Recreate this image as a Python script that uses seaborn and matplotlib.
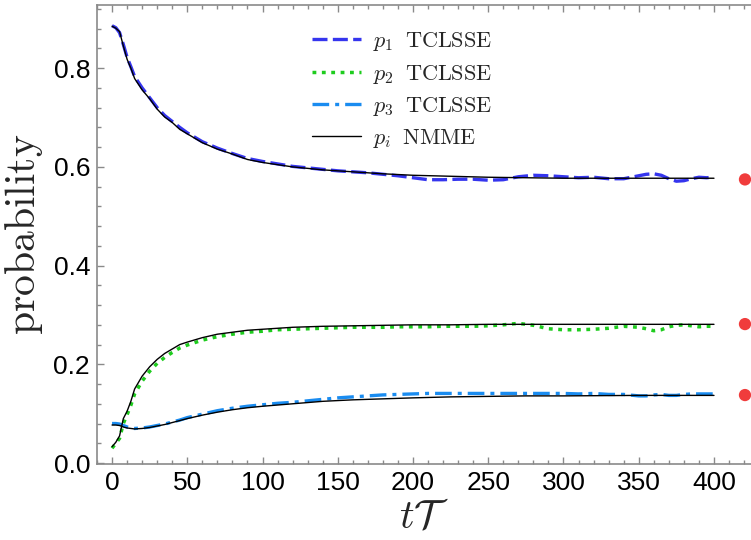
import numpy as np
import pandas as pd
import matplotlib
matplotlib.use("Agg")
import matplotlib.pyplot as plt
import seaborn as sns

# ---------------- data ----------------
t_nmme = [0, 2.5, 5, 7.5, 10, 12.5, 15, 20, 25, 30, 35, 40, 45, 50, 60, 70, 80, 90,
          100, 120, 140, 160, 180, 200, 225, 250, 275, 300, 350, 400]
p1_nmme = [.885, .881, .874, .845, .818, .800, .779, .756, .738, .717, .701, .690, .676, .667,
           .649, .636, .626, .615, .609, .600, .594, .590, .586, .583, .581, .579, .578, .577,
           .577, .577]
p2_nmme = [.033, .042, .055, .090, .105, .125, .150, .176, .195, .210, .222, .231, .240, .245,
           .254, .261, .265, .269, .271, .275, .277, .278, .279, .280, .280, .281, .281, .281,
           .281, .281]
p3_nmme = [.077, .077, .076, .073, .071, .070, .069, .070, .072, .075, .078, .082, .086, .090,
           .097, .103, .108, .112, .115, .120, .125, .128, .130, .132, .134, .135, .136, .136,
           .137, .137]

t_tcl = [0, 2.5, 5, 7.5, 10, 12.5, 15, 20, 25, 30, 35, 40, 45, 50, 60, 70, 80, 90, 100, 110,
         120, 130, 140, 150, 160, 170, 180, 190, 200, 210, 220, 230, 240, 250, 260, 270, 280,
         290, 300, 310, 320, 330, 340, 350, 355, 360, 365, 370, 375, 380, 385, 390, 395, 400]
p1_tcl = [.886, .882, .872, .848, .822, .803, .783, .760, .740, .720, .704, .692, .680, .669,
          .651, .638, .627, .617, .611, .606, .601, .598, .595, .592, .590, .588, .585, .582,
          .578, .574, .574, .575, .575, .573, .574, .580, .583, .582, .580, .578, .579, .576,
          .576, .582, .585, .586, .583, .576, .571, .572, .576, .579, .578, .579]
p2_tcl = [.030, .040, .050, .080, .098, .117, .140, .166, .186, .202, .214, .224, .233, .239,
          .249, .256, .261, .265, .267, .270, .271, .272, .273, .274, .275, .275, .275, .276,
          .276, .276, .277, .277, .277, .278, .280, .283, .279, .272, .270, .270, .271, .273,
          .277, .275, .272, .268, .270, .276, .279, .280, .278, .276, .277, .277]
p3_tcl = [.080, .080, .079, .076, .073, .071, .070, .071, .073, .076, .079, .083, .087, .092,
          .099, .106, .111, .115, .118, .121, .123, .126, .129, .132, .134, .136, .138, .139,
          .140, .141, .141, .141, .141, .141, .141, .141, .141, .141, .141, .140, .141, .139,
          .139, .136, .136, .138, .139, .137, .137, .139, .140, .140, .140, .140]

t_steady = [420.6, 420.6, 420.6]
p_steady = [0.5746, 0.2815, 0.1377]

legend_labels = [r"$p_1\;\;\mathrm{TCLSSE}$", r"$p_2\;\;\mathrm{TCLSSE}$",
                 r"$p_3\;\;\mathrm{TCLSSE}$", r"$p_i\;\;\mathrm{NMME}$"]

# ---------------- style ----------------
sns.set_style("ticks")
plt.rcParams["font.family"] = ["Liberation Sans", "DejaVu Sans"]
plt.rcParams["mathtext.fontset"] = "cm"

fig = plt.figure(figsize=(7.51, 5.40), dpi=100)
ax = fig.add_axes([97 / 751, 1 - 464 / 540, 654 / 751, 459 / 540])

c_blue = "#3535ee"
c_green = "#1ecc1e"
c_lblue = "#1a8cf0"

sns.lineplot(x=t_tcl, y=p1_tcl, ax=ax, color=c_blue, lw=2.4)
line_p1 = ax.lines[-1]
line_p1.set_dashes((4.5, 1.6))
sns.lineplot(x=t_tcl, y=p2_tcl, ax=ax, color=c_green, lw=2.5)
line_p2 = ax.lines[-1]
line_p2.set_dashes((1.1, 1.6))
sns.lineplot(x=t_tcl, y=p3_tcl, ax=ax, color=c_lblue, lw=2.4)
line_p3 = ax.lines[-1]
line_p3.set_dashes((5, 1.8, 1.2, 1.8))

for arr in (p1_nmme, p2_nmme, p3_nmme):
    sns.lineplot(x=t_nmme, y=arr, ax=ax, color="black", lw=1.0)
line_nm = ax.lines[-1]

sns.scatterplot(x=t_steady, y=p_steady, ax=ax, color="#f03c3c", s=78,
                edgecolor="none", clip_on=False, zorder=5)

ax.set_xlim(-10, 424.6)
ax.set_ylim(-0.002, 0.928)

ax.set_xticks(np.arange(0, 401, 50))
ax.set_xticks(np.arange(-10, 425, 10), minor=True)
ax.set_yticks(np.arange(0, 0.81, 0.2))
ax.set_yticks(np.arange(0, 0.93, 0.04), minor=True)
ax.set_yticklabels([f"{v:.1f}" for v in np.arange(0, 0.81, 0.2)])

gray = "#8a8a8a"
for s in ("left", "bottom", "top"):
    ax.spines[s].set_color(gray)
    ax.spines[s].set_linewidth(1.2)
ax.spines["right"].set_visible(False)

ax.tick_params(which="both", direction="in", color=gray, top=True, right=False,
               labelsize=19, labelcolor="black")
ax.tick_params(which="major", length=5.2, width=1.0, pad=5)
ax.tick_params(which="minor", length=2.8, width=1.0)

ax.set_xlabel(r"$t\mathcal{T}$", fontsize=29, labelpad=2)
ax.set_ylabel(r"$\mathrm{probability}$", fontsize=30, labelpad=6)

ax.legend([line_p1, line_p2, line_p3, line_nm], legend_labels, loc="upper left",
          bbox_to_anchor=(0.329, 0.945), frameon=False, fontsize=16,
          handlelength=2.2, handletextpad=0.55, labelspacing=0.42,
          borderpad=0, borderaxespad=0)

fig.savefig("out.png", dpi=100)
